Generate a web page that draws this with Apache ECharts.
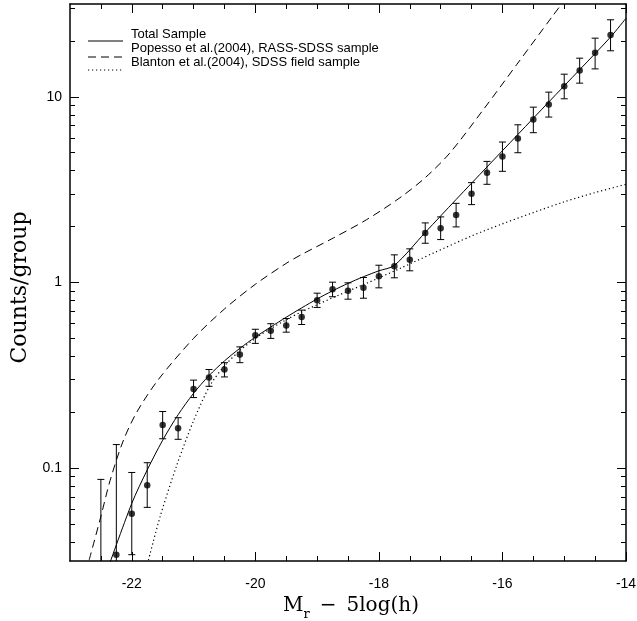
<!DOCTYPE html>
<html><head><meta charset="utf-8">
<script src="https://cdn.jsdelivr.net/npm/echarts@6/dist/echarts.min.js"></script>
<style>html,body{margin:0;padding:0;background:#fff}#c{width:637px;height:621px}</style>
</head><body><div id="c"></div>
<script>
// ---- data ----
const binX   = [-22.5,-22.25,-22.0,-21.75,-21.5,-21.25,-21.0,-20.75,-20.5,-20.25,-20.0,-19.75,-19.5,-19.25,-19.0,-18.75,-18.5,-18.25,-18.0,-17.75,-17.5,-17.25,-17.0,-16.75,-16.5,-16.25,-16.0,-15.75,-15.5,-15.25,-15.0,-14.75,-14.5,-14.25];
const counts = [0.022,0.0342,0.0568,0.081,0.171,0.164,0.267,0.308,0.34,0.41,0.52,0.55,0.587,0.651,0.803,0.921,0.902,0.936,1.081,1.224,1.324,1.849,1.96,2.31,3.01,3.90,4.77,5.97,7.55,9.09,11.42,13.85,17.25,21.55];
const errLow = [0.005,0.005,0.0342,0.0615,0.144,0.143,0.240,0.276,0.31,0.37,0.47,0.50,0.54,0.594,0.734,0.838,0.813,0.823,0.936,1.06,1.156,1.627,1.703,1.993,2.627,3.38,3.97,5.0,6.41,7.78,9.76,11.85,14.14,17.7];
const errHigh= [0.087,0.134,0.0948,0.107,0.202,0.187,0.298,0.340,0.37,0.45,0.56,0.60,0.64,0.710,0.876,1.004,0.996,1.064,1.239,1.409,1.518,2.094,2.256,2.669,3.45,4.49,5.71,7.07,8.80,10.6,13.24,16.15,20.7,26.0];

const totalX = [-22.4,-22.0,-21.75,-21.5,-21.25,-21.0,-20.75,-20.5,-20.25,-20.0,-19.75,-19.5,-19.25,-19.0,-18.75,-18.5,-18.25,-18.0,-17.75,-17.25,-16.75,-16.25,-15.75,-15.25,-14.75,-14.25,-14.0];
const totalY = [0.028,0.0646,0.0978,0.1414,0.194,0.253,0.315,0.378,0.442,0.508,0.576,0.650,0.73,0.815,0.902,0.989,1.074,1.156,1.236,1.86,2.80,4.19,6.27,9.38,14.0,21.0,26.5];

const popX = [-22.69,-22.5,-22.35,-22.14,-21.92,-21.57,-21.0,-20.5,-20.0,-19.5,-19.27,-18.74,-18.2,-17.66,-17.25,-16.85,-16.31,-15.77,-15.2,-14.9];
const popY = [0.032,0.055,0.086,0.14,0.2,0.3,0.5,0.72,0.978,1.268,1.404,1.735,2.179,2.86,3.67,4.99,8.53,14.9,26.9,36.5];

const blanX = [-21.73,-21.54,-21.27,-21.0,-20.73,-20.5,-20.25,-20.0,-19.75,-19.5,-19.27,-18.74,-18.2,-17.66,-17.12,-16.5,-16.0,-15.5,-15.0,-14.5,-14.0];
const blanY = [0.032,0.055,0.104,0.18,0.28,0.355,0.43,0.50,0.565,0.63,0.69,0.83,0.99,1.19,1.44,1.78,2.07,2.38,2.72,3.05,3.38];

const xLabelTicks = [-22,-20,-18,-16,-14];
const xMinorTicks = [-22.5,-21.5,-21,-20.5,-19.5,-19,-18.5,-17.5,-17,-16.5,-15.5,-15,-14.5];
const yLabelTicks = [0.1,1,10];
const yMinorTicks = [0.04,0.05,0.06,0.07,0.08,0.09,0.2,0.3,0.4,0.5,0.6,0.7,0.8,0.9,2,3,4,5,6,7,8,9,20,30];

// ---- chart ----
const chart = echarts.init(document.getElementById('c'), null, {renderer:'canvas'});
const sans = 'Liberation Sans, Arial, Helvetica, sans-serif';
const serif = 'DejaVu Serif, serif';
const yMin = Math.pow(10,-1.5), yMax = Math.pow(10,1.5);

function xAx(pos, ticks, len, showLine, showLabel){
  return {type:'value', min:-23, max:-14, position:pos, gridIndex:0,
    splitLine:{show:false},
    axisLine:{show:showLine, onZero:false, lineStyle:{color:'#000', width:1.5}},
    axisTick:{show:true, inside:true, length:len, customValues:ticks, lineStyle:{color:'#000', width:1}},
    axisLabel:{show:showLabel, customValues:xLabelTicks, color:'#000', fontFamily:sans, fontSize:14, margin:16}
  };
}
function yAx(pos, ticks, len, showLine, showLabel){
  return {type:'log', logBase:10, min:yMin, max:yMax, position:pos, gridIndex:0,
    splitLine:{show:false},
    axisLine:{show:showLine, onZero:false, lineStyle:{color:'#000', width:1.5}},
    axisTick:{show:true, inside:true, length:len, customValues:ticks, lineStyle:{color:'#000', width:1}},
    axisLabel:{show:showLabel, customValues:yLabelTicks, color:'#000', fontFamily:sans, fontSize:14, margin:8,
      formatter:v=>String(v)}
  };
}
const xAxes = [xAx('bottom', xLabelTicks, 9, true, true), xAx('bottom', xMinorTicks, 5, false, false),
               xAx('top', xLabelTicks, 9, true, false), xAx('top', xMinorTicks, 5, false, false)];
xAxes[0].name = '{m|M}{s|r}{m|\u2002\u2212\u20025log(h)}';
xAxes[0].nameLocation = 'middle';
xAxes[0].nameGap = 26;
xAxes[0].nameTextStyle = {padding:[0,0,0,6], rich:{
  m:{fontFamily:serif, fontSize:20, color:'#000', lineHeight:26, verticalAlign:'top'},
  s:{fontFamily:serif, fontSize:13, color:'#000', lineHeight:26, verticalAlign:'top', padding:[12,0,0,0]}
}};
const yAxes = [yAx('left', yLabelTicks, 9, true, true), yAx('left', yMinorTicks, 5, false, false),
               yAx('right', yLabelTicks, 9, true, false), yAx('right', yMinorTicks, 5, false, false)];
yAxes[0].name = 'Counts/group';
yAxes[0].nameLocation = 'middle';
yAxes[0].nameGap = 31;
yAxes[0].nameTextStyle = {fontFamily:serif, fontSize:22, color:'#000', padding:[0,10,0,0]};

function zip(a,b){return a.map((v,i)=>[v,b[i]]);}

function renderErr(params, api){
  const x = api.value(0), lo = api.value(1), hi = api.value(2);
  const a = api.coord([x, lo]), b = api.coord([x, hi]);
  const w = 3.5, st = {stroke:'#000', lineWidth:1};
  return {type:'group', children:[
    {type:'line', shape:{x1:a[0],y1:a[1],x2:b[0],y2:b[1]}, style:st},
    {type:'line', shape:{x1:a[0]-w,y1:a[1],x2:a[0]+w,y2:a[1]}, style:st},
    {type:'line', shape:{x1:b[0]-w,y1:b[1],x2:b[0]+w,y2:b[1]}, style:st}
  ]};
}

const legX1 = 88, legX2 = 123, legT = 131;
const legend = [
  {label:'Total Sample', dash:null, ty:34, ly:41},
  {label:'Popesso et al.(2004), RASS-SDSS sample', dash:[8,5], ty:48, ly:57},
  {label:'Blanton et al.(2004), SDSS field sample', dash:[1.2,2.8], ty:62, ly:70}
];
const graphic = [];
legend.forEach(l=>{
  graphic.push({type:'line', shape:{x1:legX1,y1:l.ly,x2:legX2,y2:l.ly}, style:{stroke:'#000', lineWidth:1, lineDash:l.dash}});
  graphic.push({type:'text', x:legT, y:l.ty, style:{text:l.label, fill:'#000', font:'13px '+sans, textVerticalAlign:'middle'}});
});

chart.setOption({
  animation:false,
  backgroundColor:'#fff',
  grid:{left:70, right:11, top:4, bottom:60, containLabel:false, outerBoundsMode:'none'},
  xAxis:xAxes,
  yAxis:yAxes,
  graphic:graphic,
  series:[
    {type:'line', name:'Total Sample', data:zip(totalX,totalY), smooth:0.3, showSymbol:false, clip:true,
     lineStyle:{color:'#000', width:1}},
    {type:'line', name:'Popesso', data:zip(popX,popY), smooth:0.3, showSymbol:false, clip:true,
     lineStyle:{color:'#000', width:1, type:[8,5]}},
    {type:'line', name:'Blanton', data:zip(blanX,blanY), smooth:0.3, showSymbol:false, clip:true,
     lineStyle:{color:'#000', width:1.2, type:[1.2,2.8]}},
    {type:'custom', name:'err', renderItem:renderErr, clip:true,
     data:binX.map((x,i)=>[x, errLow[i], errHigh[i]]), z:3},
    {type:'scatter', name:'data', data:zip(binX,counts), symbolSize:6.5, clip:true,
     itemStyle:{color:'#000'}, z:4}
  ]
});
</script></body></html>
